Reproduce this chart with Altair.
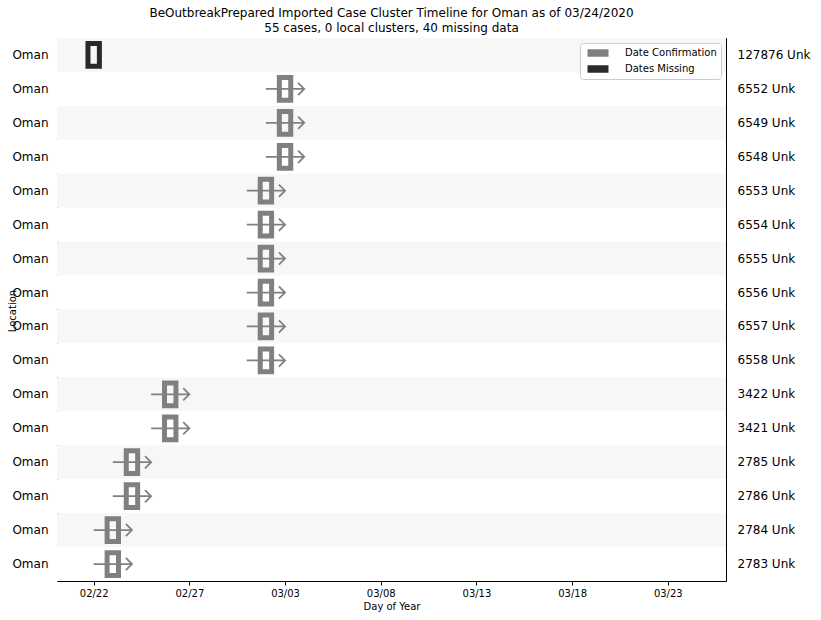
import altair as alt
import pandas as pd

# ---- data ----
case_ids = ["127876 Unk", "6552 Unk", "6549 Unk", "6548 Unk", "6553 Unk", "6554 Unk",
            "6555 Unk", "6556 Unk", "6557 Unk", "6558 Unk", "3422 Unk", "3421 Unk",
            "2785 Unk", "2786 Unk", "2784 Unk", "2783 Unk"]
locations = ["Oman"] * 16
confirm_dates = ["2020-02-22", "2020-03-03", "2020-03-03", "2020-03-03", "2020-03-02",
                 "2020-03-02", "2020-03-02", "2020-03-02", "2020-03-02", "2020-03-02",
                 "2020-02-26", "2020-02-26", "2020-02-24", "2020-02-24", "2020-02-23",
                 "2020-02-23"]
status = ["Dates Missing"] + ["Date Confirmation"] * 15
line_start = [None, "2020-03-02", "2020-03-02", "2020-03-02", "2020-03-01", "2020-03-01",
              "2020-03-01", "2020-03-01", "2020-03-01", "2020-03-01", "2020-02-25",
              "2020-02-25", "2020-02-23", "2020-02-23", "2020-02-22", "2020-02-22"]
line_end = [None, "2020-03-04", "2020-03-04", "2020-03-04", "2020-03-03", "2020-03-03",
            "2020-03-03", "2020-03-03", "2020-03-03", "2020-03-03", "2020-02-27",
            "2020-02-27", "2020-02-25", "2020-02-25", "2020-02-24", "2020-02-24"]
tick_dates = [(2, 22), (2, 27), (3, 3), (3, 8), (3, 13), (3, 18), (3, 23)]
legend_labels = ["Date Confirmation", "Dates Missing"]

df = pd.DataFrame({
    "case": case_ids,
    "loc": locations,
    "date": confirm_dates,
    "status": status,
    "start": line_start,
    "end": line_end,
    "row": list(range(len(case_ids))),
})
df_lines = df.dropna(subset=["start"])

W, H = 669, 543
FONT = "DejaVu Sans"

x_scale = alt.Scale(
    type="utc",
    domain=[alt.DateTime(year=2020, month=2, date=20, hours=2, utc=True),
            alt.DateTime(year=2020, month=3, date=26, hours=1, utc=True)],
)
y_scale = alt.Scale(domain=case_ids, paddingInner=0, paddingOuter=0)

ids_js = "[" + ",".join("'" + c + "'" for c in case_ids) + "]"
locs_js = "[" + ",".join("'" + l + "'" for l in locations) + "]"

base = alt.Chart(df)
Y_NOAXIS = alt.Y("case:N", scale=y_scale, sort=case_ids, axis=None)

stripes = base.mark_rect().encode(
    y=alt.Y("case:N", scale=y_scale, sort=case_ids,
            axis=alt.Axis(orient="left", title="Location", ticks=False, domain=False,
                          labelExpr=f"{locs_js}[indexof({ids_js}, datum.value)]",
                          labelFontSize=12, labelPadding=9, labelColor="black",
                          titleFontSize=10, titleFontWeight="normal", titleColor="black",
                          titleX=-40, titleY=H / 2 + 1)),
    x=alt.value(0),
    x2=alt.value("width"),
    fill=alt.condition("datum.row % 2 == 0", alt.value("#f7f7f7"), alt.value("#ffffff")),
)

right_axis = base.mark_point(opacity=0).encode(
    y=alt.Y("case:N", scale=y_scale, sort=case_ids,
            axis=alt.Axis(orient="right", title=None, ticks=False, domain=False,
                          labelFontSize=12, labelPadding=11, labelColor="black")),
    x=alt.X("date:T", scale=x_scale),
)

lines = alt.Chart(df_lines).mark_rule(color="#808080", strokeWidth=1.8).encode(
    y=Y_NOAXIS,
    x=alt.X("start:T", scale=x_scale),
    x2="end:T",
)

arrows = alt.Chart(df_lines).mark_point(
    shape="M-1,-1 L0,0 L-1,1", filled=False, color="#808080", strokeWidth=1.8,
    size=150, opacity=1,
).encode(
    y=Y_NOAXIS,
    x=alt.X("end:T", scale=x_scale),
)

boxes = base.mark_point(
    shape="M-0.5,-1 L0.5,-1 L0.5,1 L-0.5,1 Z", filled=False, strokeWidth=5,
    size=520,
).encode(
    y=Y_NOAXIS,
    x=alt.X("date:T", scale=x_scale,
            axis=alt.Axis(title="Day of Year", format="%m/%d",
                          values=[alt.DateTime(year=2020, month=m, date=d, utc=True) for m, d in tick_dates],
                          labelFontSize=10, labelColor="black", tickSize=4, tickColor="black",
                          domain=False, grid=False, labelPadding=3,
                          titleFontSize=10, titleFontWeight="normal", titleColor="black",
                          titlePadding=3)),
    stroke=alt.Stroke(
        "status:N",
        scale=alt.Scale(domain=legend_labels, range=["#808080", "#000000"]),
        legend=alt.Legend(
            title=None, orient="top-right", offset=5, zindex=5,
            symbolType="M-2,0 L2,0", clipHeight=12,
            symbolSize=110, symbolStrokeWidth=7.5, symbolOpacity=1, symbolOffset=5,
            labelFontSize=10, labelColor="black", rowPadding=4,
            padding=4, strokeColor="#cccccc", fillColor="white",
            cornerRadius=3, labelOffset=18,
        ),
    ),
    opacity=alt.Opacity("status:N",
                        scale=alt.Scale(domain=legend_labels, range=[1.0, 0.83]),
                        legend=None),
)

chart = alt.layer(stripes, lines, arrows, boxes, right_axis).resolve_axis(
    y="independent"
).properties(
    width=W, height=H,
    title=alt.TitleParams(
        ["BeOutbreakPrepared Imported Case Cluster Timeline for Oman as of 03/24/2020",
         "55 cases, 0 local clusters, 40 missing data"],
        fontSize=12, fontWeight="normal", font=FONT, color="black", anchor="middle",
        lineHeight=15, offset=-1,
    ),
    padding={"left": 57, "top": 38, "right": 95, "bottom": 39},
    autosize=alt.AutoSizeParams(type="none"),
).configure(font=FONT).configure_view(stroke="black", strokeWidth=1)

chart.save("out.html", embed_options={"renderer": "svg", "actions": False})
